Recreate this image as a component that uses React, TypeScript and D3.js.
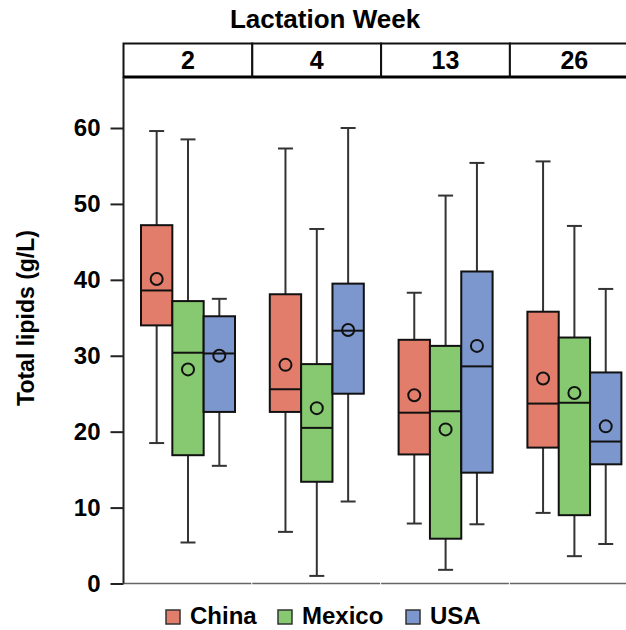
import React from "react";
import { select, scaleLinear, scaleBand, axisLeft } from "d3";

const weeks = ["2", "4", "13", "26"];
const countries = ["China", "Mexico", "USA"];
const colors = ["#E27D6C", "#87C971", "#7C97CD"];
const yTicks = [0, 10, 20, 30, 40, 50, 60];

// per week: [whisker low, q1, median, q3, whisker high, mean]
const china = [
  [18.5, 34.0, 38.6, 47.2, 59.6, 40.1],
  [6.8, 22.6, 25.6, 38.1, 57.3, 28.8],
  [7.9, 17.0, 22.5, 32.1, 38.3, 24.8],
  [9.3, 17.9, 23.7, 35.8, 55.6, 27.0]
];
const mexico = [
  [5.4, 16.9, 30.4, 37.2, 58.5, 28.2],
  [1.0, 13.4, 20.5, 28.9, 46.7, 23.1],
  [1.8, 5.9, 22.7, 31.3, 51.1, 20.3],
  [3.6, 9.0, 23.8, 32.4, 47.1, 25.1]
];
const usa = [
  [15.5, 22.6, 30.3, 35.2, 37.5, 30.0],
  [10.8, 25.0, 33.3, 39.5, 60.0, 33.4],
  [7.8, 14.6, 28.6, 41.1, 55.4, 31.3],
  [5.2, 15.7, 18.7, 27.8, 38.8, 20.7]
];

const font = "'Liberation Sans', Arial, sans-serif";

export default function App() {
  const svgRef = React.useRef(null);

  React.useEffect(() => {
    const svg = select(svgRef.current);
    svg.selectAll("*").remove();

    const left = 123.5;
    const panelW = 128.8;
    const stripTop = 43.5;
    const stripBottom = 77;

    const xWeek = scaleBand()
      .domain(weeks)
      .range([left, left + panelW * weeks.length]);
    const xCountry = scaleBand()
      .domain(countries)
      .range([17.5, 111.5]);
    const y = scaleLinear().domain([0, 60]).range([583.5, 128]);

    // title
    svg
      .append("text")
      .attr("x", 325)
      .attr("y", 28)
      .attr("text-anchor", "middle")
      .attr("font-size", 26)
      .attr("font-weight", "bold")
      .attr("font-family", font)
      .text("Lactation Week");

    // strips
    const strips = svg
      .selectAll(".strip")
      .data(weeks)
      .join("g")
      .attr("class", "strip");
    strips
      .append("rect")
      .attr("x", d => xWeek(d))
      .attr("y", stripTop)
      .attr("width", xWeek.bandwidth())
      .attr("height", stripBottom - stripTop)
      .attr("fill", "white")
      .attr("stroke", "#111")
      .attr("stroke-width", 2);
    strips
      .append("line")
      .attr("x1", d => xWeek(d))
      .attr("x2", d => xWeek(d) + xWeek.bandwidth())
      .attr("y1", stripBottom)
      .attr("y2", stripBottom)
      .attr("stroke", "#000")
      .attr("stroke-width", 3);
    strips
      .append("text")
      .attr("x", d => xWeek(d) + xWeek.bandwidth() / 2)
      .attr("y", (stripTop + stripBottom) / 2)
      .attr("dy", "0.35em")
      .attr("text-anchor", "middle")
      .attr("font-size", 25)
      .attr("font-weight", "bold")
      .attr("font-family", font)
      .text(d => d);

    // bottom lines per panel
    svg
      .selectAll(".bottom")
      .data(weeks)
      .join("line")
      .attr("class", "bottom")
      .attr("x1", d => xWeek(d))
      .attr("x2", d => xWeek(d) + xWeek.bandwidth() - 1)
      .attr("y1", y(0))
      .attr("y2", y(0))
      .attr("stroke", "#666")
      .attr("stroke-width", 1.5);

    // y axis
    const yAxis = axisLeft(y).tickValues(yTicks).tickSize(13).tickPadding(10);
    const ya = svg
      .append("g")
      .attr("transform", `translate(${left},0)`)
      .call(yAxis);
    ya.select(".domain").remove();
    ya.selectAll(".tick line").attr("stroke", "#222").attr("stroke-width", 2);
    ya.selectAll(".tick text")
      .attr("font-size", 24)
      .attr("font-weight", "bold")
      .attr("font-family", font)
      .attr("fill", "#000");
    svg
      .append("line")
      .attr("x1", left)
      .attr("x2", left)
      .attr("y1", stripBottom)
      .attr("y2", y(0))
      .attr("stroke", "#222")
      .attr("stroke-width", 2);

    svg
      .append("text")
      .attr("transform", `translate(34,318) rotate(-90)`)
      .attr("text-anchor", "middle")
      .attr("font-size", 23)
      .attr("font-weight", "bold")
      .attr("font-family", font)
      .text("Total lipids (g/L)");

    // boxes
    const series = [china, mexico, usa];
    const boxes = [];
    series.forEach((s, ci) => {
      s.forEach((st, wi) => {
        boxes.push({ ci, week: weeks[wi], country: countries[ci], st });
      });
    });
    const bw = xCountry.bandwidth();
    const bx = d => xWeek(d.week) + xCountry(d.country);
    const cx = d => bx(d) + bw / 2;

    const g = svg
      .selectAll(".box")
      .data(boxes)
      .join("g")
      .attr("class", "box");
    // whiskers
    g.append("line")
      .attr("x1", cx)
      .attr("x2", cx)
      .attr("y1", d => y(d.st[4]))
      .attr("y2", d => y(d.st[0]))
      .attr("stroke", "#333")
      .attr("stroke-width", 2);
    [0, 4].forEach(k => {
      g.append("line")
        .attr("x1", d => cx(d) - 7.5)
        .attr("x2", d => cx(d) + 7.5)
        .attr("y1", d => y(d.st[k]))
        .attr("y2", d => y(d.st[k]))
        .attr("stroke", "#333")
        .attr("stroke-width", 2);
    });
    g.append("rect")
      .attr("x", bx)
      .attr("width", bw)
      .attr("y", d => y(d.st[3]))
      .attr("height", d => y(d.st[1]) - y(d.st[3]))
      .attr("fill", d => colors[d.ci])
      .attr("stroke", "#111")
      .attr("stroke-width", 2);
    g.append("line")
      .attr("x1", bx)
      .attr("x2", d => bx(d) + bw)
      .attr("y1", d => y(d.st[2]))
      .attr("y2", d => y(d.st[2]))
      .attr("stroke", "#111")
      .attr("stroke-width", 2);
    g.append("circle")
      .attr("cx", cx)
      .attr("cy", d => y(d.st[5]))
      .attr("r", 6)
      .attr("fill", "none")
      .attr("stroke", "#111")
      .attr("stroke-width", 2);

    // legend
    const legX = [166, 278, 406];
    const leg = svg
      .selectAll(".leg")
      .data(countries)
      .join("g")
      .attr("class", "leg")
      .attr("transform", (d, i) => `translate(${legX[i]},610)`);
    leg
      .append("rect")
      .attr("width", 14)
      .attr("height", 14)
      .attr("fill", (d, i) => colors[i])
      .attr("stroke", "#333")
      .attr("stroke-width", 1.5);
    leg
      .append("text")
      .attr("x", 24)
      .attr("y", 14)
      .attr("font-size", 24)
      .attr("font-weight", "bold")
      .attr("font-family", font)
      .text(d => d);
  }, []);

  return (
    <svg
      ref={svgRef}
      width={626}
      height={630}
      style={{ position: "absolute", left: 0, top: 0, background: "white" }}
    />
  );
}
